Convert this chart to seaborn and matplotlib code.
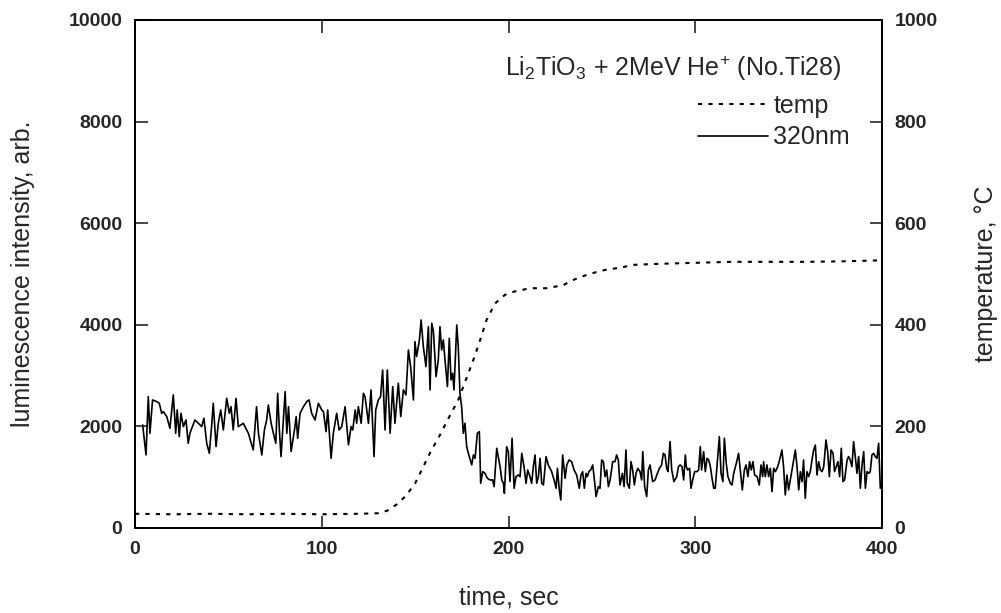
import numpy as np
import pandas as pd
import seaborn as sns
import matplotlib
matplotlib.use("Agg")
import matplotlib.pyplot as plt
from matplotlib.lines import Line2D

# --- luminescence 320 nm ---
lum_t = [4.1, 5.9, 7.1, 8.0, 9.4, 11.6, 13.0, 14.3, 15.2, 17.0, 18.7, 20.5, 21.8, 22.6, 23.7, 24.6,
         25.9, 27.3, 28.5, 29.4, 32.1, 33.9, 35.7, 36.9, 38.4, 39.8, 41.0, 41.9, 43.4, 44.6, 45.9,
         47.3, 49.1, 50.5, 51.4, 52.6, 54.1, 55.3, 58.0, 60.7, 63.3, 65.1, 66.1, 67.9, 69.3, 70.5,
         71.4, 72.9, 74.1, 75.4, 76.4, 77.3, 78.2, 80.4, 81.3, 82.2, 83.6, 85.4, 86.3, 87.1, 88.4,
         90.2, 92.0, 93.2, 94.6, 96.4, 98.2, 100.0, 100.9, 102.3, 103.2, 105.0, 106.2, 108.0, 109.3,
         110.7, 112.5, 114.3, 115.7, 116.6, 117.9, 118.7, 119.6, 121.1, 122.3, 123.2, 125.0, 126.4,
         128.0, 128.9, 130.3, 131.5, 132.6, 133.9, 135.1, 136.6, 138.0, 139.2, 141.0, 142.3, 143.7,
         145.1, 146.4, 147.6, 149.1, 149.9, 150.8, 152.3, 153.2, 154.4, 155.8, 157.1, 158.0, 158.9,
         159.8, 161.2, 162.4, 163.3, 164.2, 165.1, 166.0, 167.3, 168.3, 169.2, 170.1, 170.8, 172.3,
         173.1, 174.0, 174.9, 175.8, 176.7, 177.6, 179.0, 180.3, 181.2, 182.1, 183.3, 184.4, 185.1,
         186.2, 187.4, 188.7, 190.1, 191.5, 192.3, 193.7, 195.5, 196.4, 197.3, 197.8, 199.0, 199.9,
         200.8, 201.9, 203.0, 204.0, 205.3, 206.2, 207.1, 208.3, 209.4, 210.3, 211.5, 212.4, 213.3,
         214.2, 215.1, 216.0, 216.9, 217.8, 218.7, 220.1, 221.3, 222.2, 223.1, 224.4, 225.5, 226.2,
         227.2, 228.0, 229.0, 230.3, 231.2, 232.4, 233.8, 235.1, 236.5, 237.9, 238.8, 239.7, 240.6,
         241.5, 242.2, 243.1, 244.0, 245.1, 246.0, 246.9, 248.1, 249.0, 249.9, 250.8, 251.7, 252.6,
         253.5, 254.4, 255.8, 257.0, 257.9, 258.8, 259.7, 261.0, 261.9, 262.9, 263.6, 264.7, 265.6,
         266.5, 267.4, 268.3, 269.2, 270.4, 271.3, 271.9, 272.9, 274.0, 274.9, 275.8, 277.2, 278.5,
         279.4, 280.8, 282.0, 282.9, 283.8, 284.7, 285.4, 286.5, 287.4, 288.6, 290.1, 291.0, 291.9,
         292.9, 293.8, 294.7, 295.2, 295.9, 297.0, 297.7, 298.8, 299.7, 300.9, 301.8, 302.7, 303.4,
         304.5, 305.4, 306.3, 307.2, 308.1, 309.0, 309.9, 310.7, 311.6, 312.9, 313.8, 314.8, 315.6,
         316.6, 317.5, 318.8, 319.7, 320.6, 322.0, 323.2, 324.1, 325.2, 326.3, 327.2, 328.2, 329.1,
         330.0, 330.9, 331.8, 333.1, 334.3, 335.2, 336.1, 336.6, 337.5, 338.4, 339.3, 340.2, 341.1,
         342.0, 342.9, 343.8, 344.7, 345.6, 346.4, 347.3, 348.2, 349.1, 350.0, 350.9, 351.8, 352.7,
         353.6, 354.5, 355.4, 356.3, 357.2, 358.0, 358.9, 359.8, 360.7, 361.6, 362.5, 363.4, 364.3,
         365.2, 366.1, 367.0, 367.9, 368.8, 370.0, 370.9, 371.8, 372.7, 373.8, 374.6, 375.5, 376.4,
         377.3, 378.2, 379.1, 380.0, 381.3, 382.1, 383.0, 383.9, 384.8, 385.7, 386.6, 387.5, 388.4,
         389.3, 390.2, 391.1, 392.0, 392.9, 393.7, 394.6, 395.5, 396.4, 397.3, 398.2, 399.1]
lum_v = [2029, 1438, 2586, 1865, 2521, 2488, 2455, 2258, 2291, 2193, 1963, 2619, 1865, 2324, 1799, 2258,
         1996, 2127, 1668, 1865, 2127, 2061, 1996, 2160, 1668, 1471, 1996, 2455, 1602, 2061, 2324,
         1930, 2553, 2258, 2389, 1930, 2553, 1996, 2061, 1865, 1537, 2389, 1865, 1438, 1930, 2127,
         2422, 2061, 1865, 1668, 2652, 1930, 1405, 2685, 1865, 2389, 1504, 1930, 2193, 1766, 2258,
         2389, 2488, 2521, 2258, 2127, 2455, 2324, 2291, 1897, 2324, 1373, 1865, 2258, 1930,
         1996, 2389, 1635, 1996, 1930, 2324, 2061, 2389, 2061, 2652, 2586, 2061, 2717,
         1405, 2324, 2521, 2586, 3111, 1930, 3111, 1865, 2783, 2062, 2849, 2193, 2718,
         2620, 3505, 3177, 2520, 3669, 3374, 3702, 4095, 3571, 3177, 3964, 2718, 4030,
         3866, 2980, 3308, 3964, 3505, 3702, 3308, 2783, 3734, 2914, 3046, 2718, 3997,
         3571, 2652, 2390, 1865, 2062, 1603, 1406, 1242, 1438, 1372, 1864, 1897, 880,
         1110, 1077, 978, 946, 946, 814, 1569, 1208, 946, 880, 683, 1602, 1503,
         913, 1766, 782, 1011, 1044, 1011, 1470, 1208, 880, 1142, 1011, 880, 1208,
         1438, 880, 1011, 1372, 880, 847, 1405, 1241, 1175, 1110, 946, 782, 1175,
         749, 552, 1438, 978, 1241, 1339, 1306, 1142, 1044, 782, 1044, 1110, 782,
         1077, 1011, 1110, 1142, 1241, 946, 618, 814, 782, 1339, 1306, 1011, 1142,
         814, 946, 1306, 1306, 1438, 1339, 847, 1077, 814, 1536, 880, 782, 1306,
         1142, 847, 1077, 1175, 1110, 946, 1503, 814, 618, 1142, 1241, 913, 946,
         1044, 1175, 1241, 1470, 1438, 1175, 1110, 1700, 1142, 913, 1011, 1208, 1241,
         1208, 946, 1438, 1208, 1142, 1175, 782, 978, 1110, 1110, 1142, 1602, 1142,
         1503, 1110, 1372, 1339, 1208, 978, 782, 782, 1208, 1798, 1077, 913, 1766,
         1274, 1011, 880, 847, 1077, 1274, 1470, 1142, 749, 1142, 1241, 1011, 1306,
         1142, 1306, 1044, 1011, 847, 1241, 1011, 1306, 1011, 1241, 1011, 1175, 716,
         1175, 1110, 1175, 1274, 1405, 1536, 1208, 650, 1044, 749, 946, 1142, 1339,
         1536, 1208, 749, 1110, 913, 1339, 585, 1110, 1011, 1110, 1339, 1536, 1634,
         1044, 1306, 1142, 1110, 1208, 1733, 1503, 1011, 1536, 1470, 1110, 1208, 1306,
         1011, 1569, 913, 946, 1339, 1405, 1339, 1208, 1700, 1405, 1077, 1405, 782,
         1241, 1503, 782, 1110, 1077, 1110, 1438, 1470, 1405, 1372, 1667, 782]

# --- thermocouple temperature ---
temp_t = [0, 20, 40, 60, 80, 100, 120, 130, 135, 140, 145, 150, 153.5, 158, 163.3, 168, 173.1,
          177, 181.2, 185, 188.3, 192.8, 198.1, 202.6, 211.5, 220.4, 229.3, 233.8, 239.2, 246.3,
          251.7, 260.6, 266.8, 280, 300, 320, 340, 360, 380, 400]
temp_v = [28, 27, 28, 27, 28, 27, 28, 29, 34, 46, 63, 88, 114, 148, 183, 217, 252,
          290, 331, 372, 410, 442, 459, 465, 472, 472, 478, 487, 495, 503,
          508, 513, 518, 520, 522, 524, 524, 524, 525, 527]

sns.set_style("ticks")
plt.rcParams['font.family'] = ['Liberation Sans', 'DejaVu Sans']
plt.rcParams['mathtext.fontset'] = 'custom'
plt.rcParams['mathtext.rm'] = 'Liberation Sans'
plt.rcParams['mathtext.it'] = 'Liberation Sans'
plt.rcParams['xtick.direction'] = 'in'
plt.rcParams['ytick.direction'] = 'in'

df_lum = pd.DataFrame({"t": lum_t, "v": lum_v})
df_temp = pd.DataFrame({"t": temp_t, "v": temp_v})

fig = plt.figure(figsize=(10.01, 6.13), dpi=100)
ax = fig.add_axes([135 / 1001, 1 - 528 / 613, (882 - 135) / 1001, (528 - 20) / 613])
ax2 = ax.twinx()

sns.lineplot(data=df_lum, x="t", y="v", ax=ax, color="black", linewidth=1.2, sort=False)
sns.lineplot(data=df_temp, x="t", y="v", ax=ax2, color="black", linewidth=1.5,
             linestyle=(0, (2, 3)), sort=False)

ax.set_xlim(0, 400)
ax.set_ylim(0, 10000)
ax2.set_ylim(0, 1000)
ax.set_xticks([0, 100, 200, 300, 400])
ax.set_yticks(range(0, 10001, 2000))
ax2.set_yticks(range(0, 1001, 200))

for a in (ax, ax2):
    for spine in a.spines.values():
        spine.set_visible(True)
        spine.set_linewidth(1.3)
        spine.set_color("black")
ax.tick_params(axis="both", which="major", length=9, width=1.2, labelsize=14, pad=9,
               top=True, right=False)
ax2.tick_params(axis="y", length=9, width=1.2, labelsize=14, pad=9)
for lab in ax.get_xticklabels() + ax.get_yticklabels() + ax2.get_yticklabels():
    lab.set_fontweight("bold")

ax.set_xlabel("time, sec", fontsize=18, labelpad=20)
ax.set_ylabel("luminescence intensity, arb.", fontsize=18, labelpad=24)
ax2.set_ylabel("temperature, °C", fontsize=18, labelpad=26)

fig.text(505 / 1001, 1 - 68 / 613, r"Li$_2$TiO$_3$ + 2MeV He$^{+}$ (No.Ti28)",
         fontsize=18, ha="left", va="center")

handles = [Line2D([], [], color="black", lw=1.5, linestyle=(0, (2, 3))),
           Line2D([], [], color="black", lw=1.2)]
ax.legend(handles, ["temp", "320nm"], loc="upper right", frameon=False,
          bbox_to_anchor=(850 / 1001, 1 - 94 / 613), bbox_transform=fig.transFigure,
          fontsize=18, handlelength=2.8, handletextpad=0.2, labelspacing=0.3,
          borderpad=0, borderaxespad=0)

fig.savefig("out.png", dpi=100)
